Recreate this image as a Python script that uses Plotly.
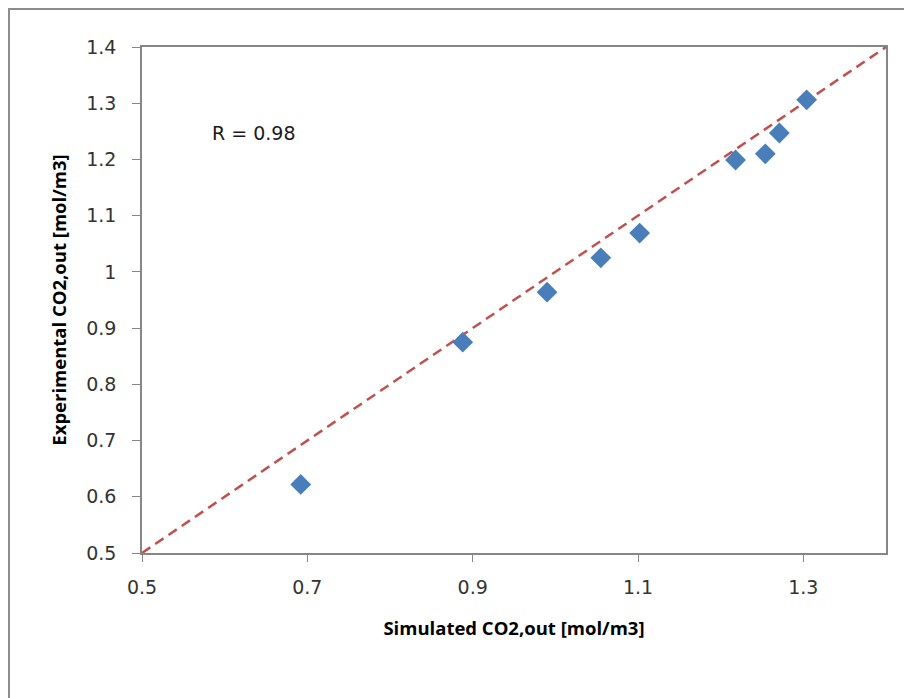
import plotly.graph_objects as go

# simulated vs experimental CO2 outlet concentration [mol/m3]
sim_co2 = [0.692, 0.888, 0.990, 1.055, 1.102, 1.218, 1.254, 1.271, 1.304]
exp_co2 = [0.622, 0.875, 0.964, 1.025, 1.069, 1.199, 1.210, 1.247, 1.306]

# parity line
parity_x = [0.5, 1.4]
parity_y = [0.5, 1.4]

x_ticks = [0.5, 0.7, 0.9, 1.1, 1.3]
y_ticks = [0.5, 0.6, 0.7, 0.8, 0.9, 1.0, 1.1, 1.2, 1.3, 1.4]
y_tick_text = ['0.5', '0.6', '0.7', '0.8', '0.9', '1', '1.1', '1.2', '1.3', '1.4']

axis_color = '#868686'
tick_font = dict(family='Verdana, DejaVu Sans', size=19, color='#333333')
title_font = dict(family='Open Sans', size=18.5, color='#000000')

fig = go.Figure()

fig.add_trace(go.Scatter(
    x=parity_x, y=parity_y,
    mode='lines',
    line=dict(color='#c0504d', width=2.5, dash='10px,6px'),
    showlegend=False,
    hoverinfo='skip'
))

fig.add_trace(go.Scatter(
    x=sim_co2, y=exp_co2,
    mode='markers',
    marker=dict(symbol='diamond', size=16, color='#4a7ebb'),
    showlegend=False
))

fig.add_annotation(
    x=0.636, y=1.247, xref='x', yref='y',
    text='R = 0.98', showarrow=False,
    font=dict(family='Verdana, DejaVu Sans', size=19, color='#1a1a1a')
)

# outer chart frame (page body adds an 8px offset)
fig.add_shape(
    type='rect', xref='paper', yref='paper',
    x0=-0.1788, x1=1.3, y0=-0.4, y1=1.075,
    line=dict(color='#8c8c8c', width=2),
    layer='below'
)

fig.update_xaxes(
    range=[0.5, 1.4],
    tickvals=x_ticks,
    ticktext=[str(v) for v in x_ticks],
    ticks='outside', ticklen=7, tickcolor=axis_color,
    showline=True, linecolor=axis_color, linewidth=1.5, mirror=True,
    showgrid=False, zeroline=False,
    tickfont=tick_font,
    ticklabelstandoff=9,
    title=dict(text='<b>Simulated CO2,out [mol/m3]</b>', font=title_font, standoff=26)
)

fig.update_yaxes(
    range=[0.5, 1.4],
    tickvals=y_ticks,
    ticktext=y_tick_text,
    ticks='outside', ticklen=8, tickcolor=axis_color,
    showline=True, linecolor=axis_color, linewidth=1.5, mirror=True,
    showgrid=False, zeroline=False,
    tickfont=tick_font,
    ticklabelstandoff=12,
    title=dict(text='<b>Experimental CO2,out [mol/m3]</b>', font=title_font, standoff=15)
)

fig.update_layout(
    width=904, height=690,
    margin=dict(l=134, r=26, t=39, b=145),
    plot_bgcolor='white',
    paper_bgcolor='white'
)

fig.write_html('out.html')
